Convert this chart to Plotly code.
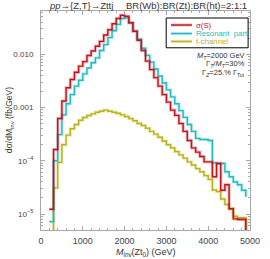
import plotly.graph_objects as go

# Bin lower edges (GeV), 100 GeV bins
bin_lo = list(range(200, 5000, 100))
x_end = 5000

sigma_S = [1.23e-5, 1.62e-4, 6.2e-4, 1.32e-3, 2.34e-3, 3.35e-3, 4.57e-3, 5.96e-3, 7.24e-3, 9.44e-3,
           1.15e-2, 1.41e-2, 1.74e-2, 2.29e-2, 2.88e-2, 3.72e-2, 4.68e-2, 5.37e-2, 5.13e-2, 3.89e-2,
           2.69e-2, 1.82e-2, 1.17e-2, 7.41e-3, 5.13e-3, 3.63e-3, 2.51e-3, 1.74e-3, 1.26e-3, 8.9e-4,
           7.1e-4, 5.0e-4, 3.55e-4, 2.4e-4, 1.74e-4, 1.45e-4, 1.2e-4, 9.5e-5, 9.5e-5, 5.0e-5,
           8.9e-5, 2.8e-5, 3.55e-5, 1.26e-5, 8.1e-6, 7.9e-6, 7.9e-6, 1e-9]

resonant = [7.2e-6, 1.0e-4, 3.09e-4, 7.24e-4, 1.17e-3, 1.74e-3, 2.51e-3, 3.24e-3, 4.27e-3, 5.5e-3,
            6.92e-3, 8.5e-3, 1.17e-2, 1.51e-2, 2.04e-2, 2.75e-2, 3.63e-2, 4.68e-2, 4.79e-2, 3.89e-2,
            2.69e-2, 1.91e-2, 1.29e-2, 9.5e-3, 7.1e-3, 5.25e-3, 3.89e-3, 2.88e-3, 2.14e-3, 1.58e-3,
            1.17e-3, 8.7e-4, 6.5e-4, 4.8e-4, 3.55e-4, 2.63e-4, 2.51e-4, 2.51e-4, 2.4e-4, 9.1e-5,
            8.9e-5, 8.9e-5, 6.2e-5, 5.0e-5, 4.0e-5, 3.55e-5, 2.8e-5, 2.1e-5]

t_channel = [1e-9, 3.09e-5, 9.3e-5, 2.0e-4, 3.02e-4, 3.98e-4, 4.79e-4, 5.75e-4, 6.46e-4, 7.08e-4,
             7.59e-4, 8.13e-4, 8.51e-4, 8.91e-4, 8.51e-4, 8.13e-4, 7.76e-4, 7.24e-4, 6.76e-4, 6.17e-4,
             5.62e-4, 5.01e-4, 4.57e-4, 4.07e-4, 3.55e-4, 3.16e-4, 2.75e-4, 2.34e-4, 2.0e-4, 1.74e-4,
             1.48e-4, 1.29e-4, 1.12e-4, 9.5e-5, 8.3e-5, 7.1e-5, 6.2e-5, 5.25e-5, 4.47e-5, 2.82e-5,
             2.63e-5, 1.91e-5, 1.51e-5, 1.23e-5, 9.1e-6, 8.5e-6, 8.5e-6, 1e-9]

y_tickvals = [1e-5, 1e-4, 1e-3, 1e-2]
y_ticktext = ["10<sup>\u22125</sup>", "10<sup>\u22124</sup>", "0.001", "0.010"]
x_tickvals = [0, 1000, 2000, 3000, 4000, 5000]

series = [
    ("t-channel", t_channel, "#b9b316", "rgba(185,179,22,0.28)", True),
    ("Resonant  part", resonant, "#21bcc3", "rgba(33,188,195,0.28)", False),
    ("\u03c3(S)", sigma_S, "#c4121c", "rgba(196,18,28,0.28)", True),
]

fig = go.Figure()
for name, vals, col, halo, extend in series:
    if extend:
        xs = bin_lo + [x_end]
        ys = vals + [vals[-1]]
    else:
        xs = bin_lo[:len(vals)]
        ys = vals
    fig.add_trace(go.Scatter(x=xs, y=ys, mode="lines", line=dict(shape="hv", color=halo, width=3.2),
                             showlegend=False, hoverinfo="skip"))
    fig.add_trace(go.Scatter(x=xs, y=ys, mode="lines", line=dict(shape="hv", color=col, width=1.4),
                             name=name, showlegend=False))

minor_y = [m * 10 ** e for e in range(-6, 0) for m in range(2, 10)]

font = "Liberation Sans, Arial, sans-serif"
axcol = "#a8a8a8"
fig.update_layout(
    width=270, height=259,
    margin=dict(l=41, r=12, t=10, b=29),
    paper_bgcolor="white", plot_bgcolor="white",
    font=dict(family=font, color="#444444", size=8),
    showlegend=False,
    xaxis=dict(range=[0, 5000], tickvals=x_tickvals, ticks="inside", ticklen=4, tickcolor=axcol,
               showline=True, linecolor=axcol, linewidth=1, mirror="allticks", showgrid=False,
               zeroline=False, tickfont=dict(size=9, color="#444444"), ticklabelstandoff=2,
               minor=dict(dtick=200, ticks="inside", ticklen=2, tickcolor=axcol)),
    yaxis=dict(type="log", range=[-5.30, -1.19], tickvals=y_tickvals, ticktext=y_ticktext,
               ticks="inside", ticklen=4, tickcolor=axcol, showline=True, linecolor=axcol, linewidth=1,
               mirror="allticks", showgrid=False, zeroline=False,
               tickfont=dict(size=8, color="#444444"), ticklabelstandoff=5,
               minor=dict(tickvals=minor_y, ticks="inside", ticklen=2, tickcolor=axcol)),
)

ann = []
# Titles
ann.append(dict(x=0.03, y=0.99, xref="paper", yref="paper", xanchor="left", yanchor="bottom",
                text="<i>pp</i>\u2192{Z,T}\u2192Zttj", showarrow=False, font=dict(size=9.5, color="#333333")))
ann.append(dict(x=0.395, y=0.99, xref="paper", yref="paper", xanchor="left", yanchor="bottom",
                text="BR(Wb):BR(Zt):BR(ht)=2:1:1", showarrow=False, font=dict(size=9.5, color="#333333")))
# Axis titles
ann.append(dict(x=-0.15, y=0.5, xref="paper", yref="paper", xanchor="center", yanchor="middle",
                textangle=-90, text="d\u03c3/dM<sub>inv</sub> (fb/GeV)", showarrow=False,
                font=dict(size=8.5, color="#333333")))
ann.append(dict(x=0.5, y=-0.105, xref="paper", yref="paper", xanchor="center", yanchor="middle",
                text="<i>M</i><sub>inv</sub>(Zt<sub>0</sub>) (GeV)", showarrow=False,
                font=dict(size=9, color="#333333")))
# Parameter text
params = ["<i>M</i><sub><i>T</i></sub>=2000 GeV",
          "\u0393<sub><i>T</i></sub>/<i>M</i><sub><i>T</i></sub>=30%",
          "\u0393<sub><i>Z</i></sub>=25.% \u0393<sub>Tot</sub>"]
for i, t in enumerate(params):
    ann.append(dict(x=0.988, y=0.795 - 0.039 * i, xref="paper", yref="paper", xanchor="right",
                    yanchor="middle", text=t, showarrow=False, font=dict(size=7.5, color="#333333")))

# Manual legend
shapes = [dict(type="rect", xref="paper", yref="paper", x0=0.599, x1=0.991, y0=0.832, y1=0.968,
               line=dict(color="black", width=1), fillcolor="white", layer="above")]
leg_y = [0.936, 0.897, 0.861]
leg_items = [series[2], series[1], series[0]]
for (name, vals, col, halo, ext), ly in zip(leg_items, leg_y):
    shapes.append(dict(type="line", xref="paper", yref="paper", x0=0.622, x1=0.722, y0=ly, y1=ly,
                       line=dict(color=halo, width=3.2), layer="above"))
    shapes.append(dict(type="line", xref="paper", yref="paper", x0=0.622, x1=0.722, y0=ly, y1=ly,
                       line=dict(color=col, width=1.4), layer="above"))
    ann.append(dict(x=0.733, y=ly, xref="paper", yref="paper", xanchor="left", yanchor="middle",
                    text=name, showarrow=False, font=dict(size=7.8, color=col)))

fig.update_layout(annotations=ann, shapes=shapes)
fig.write_html("out.html", config={"displayModeBar": False},
               post_script="document.body.style.margin='0';document.body.style.padding='0';")
